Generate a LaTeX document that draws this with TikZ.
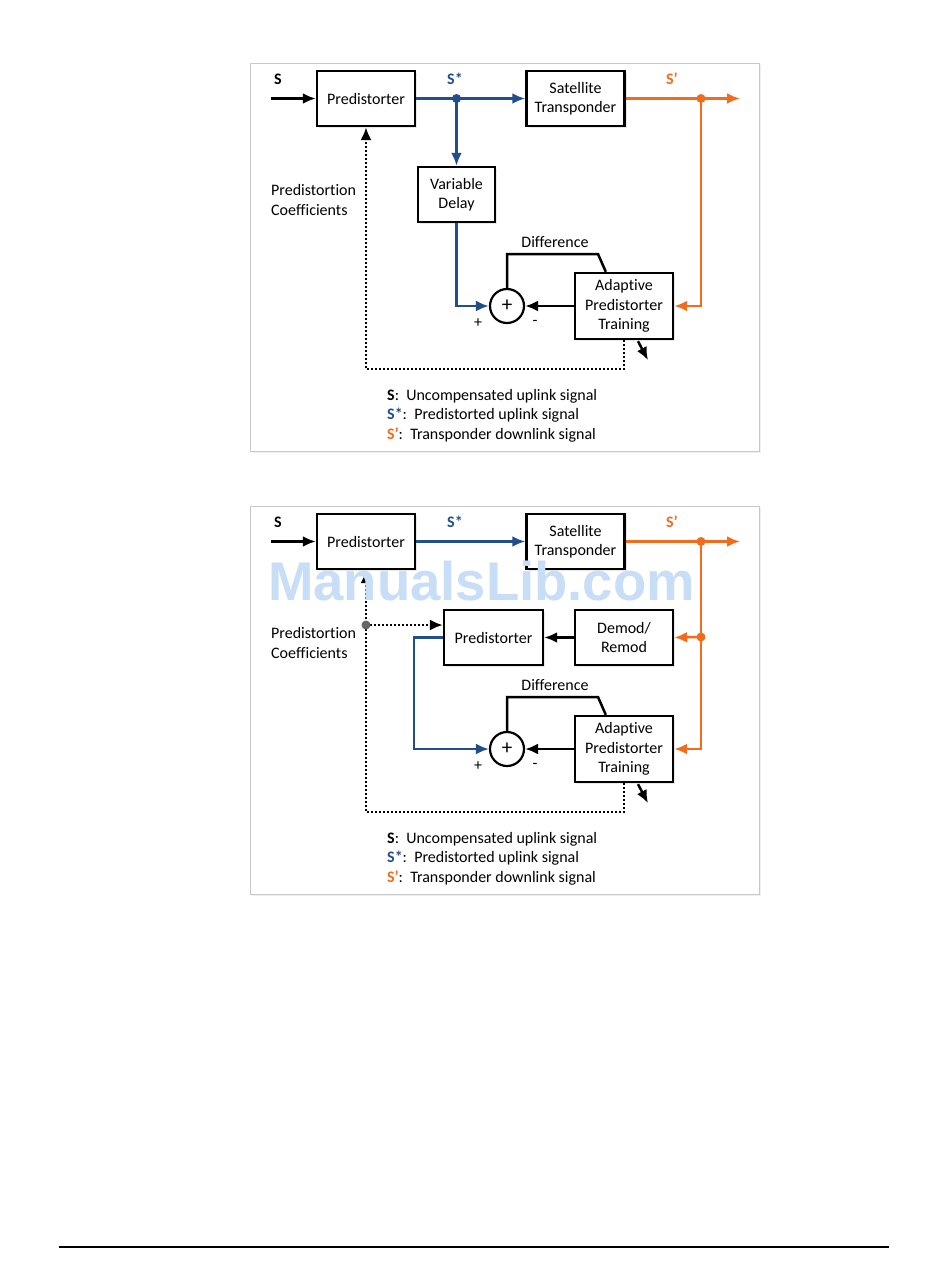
\documentclass[tikz,border=0pt]{standalone}
\usepackage{fontspec}
\setmainfont{Carlito}[Ligatures={NoCommon}]
\newfontfamily\wmfont{Liberation Sans}
\usetikzlibrary{arrows.meta,calc,shadows}
\definecolor{sblue}{RGB}{35,78,140}
\definecolor{sorange}{RGB}{242,108,30}
\definecolor{wmblue}{RGB}{200,221,246}
\definecolor{framegray}{RGB}{200,200,200}
\tikzset{
  txt/.style={font=\fontsize{16}{19.5}\selectfont, align=center, inner sep=0pt},
  blk/.style={txt, draw=black, line width=2.4pt, fill=white, minimum width=98pt, minimum height=55pt,
    drop shadow={shadow xshift=2pt, shadow yshift=-2pt, opacity=0.18}},
  sumnode/.style={circle, draw=black, line width=2.2pt, fill=white, minimum size=34pt, inner sep=0pt,
    font=\fontsize{21}{21}\selectfont},
  conn/.style={line width=2.5pt},
  tip/.style={-{Latex[length=13pt,width=11pt]}},
  bl/.style={conn, draw=sblue},
  orl/.style={conn, draw=sorange},
  dotl/.style={line width=2.2pt, dash pattern=on 2pt off 2pt, line cap=butt},
  frame/.style={draw=framegray, line width=1pt, fill=white,
    drop shadow={shadow xshift=2pt, shadow yshift=-2pt, opacity=0.12}},
}
\begin{document}
\begin{tikzpicture}[x=1pt,y=-1pt]
\useasboundingbox (0,0) rectangle (950,1267);
\fill[white] (0,0) rectangle (950,1267);

% ================= TOP DIAGRAM =================
\begin{scope}
\draw[frame] (250,63) rectangle (759,451);
\node[blk] (tP) at (366,98.5) {Predistorter};
\node[blk] (tS) at (575.5,98.5) {Satellite\\Transponder};
\node[blk, minimum width=77pt] (tVD) at (456.5,194.5) {Variable\\Delay};
\node[blk, minimum height=66pt] (tA) at (624,306) {Adaptive\\Predistorter\\Training};
\node[sumnode] (tsum) at (507,306) {+};
\coordinate (tin) at (271,98.5);
\coordinate (tout) at (740,98.5);
\coordinate (tbd) at (456.5,98.5);
\coordinate (tod) at (701,98.5);
% input
\draw[conn, tip] (tin) -- (tP.west);
% S* path
\draw[bl, tip] (tP.east) -- (tS.west);
\draw[bl, tip] (tbd) -- (tVD.north);
\fill[sblue] (tbd) circle (4.5);
\draw[bl, tip] (tVD.south) |- (tsum.west);
% S' path
\draw[orl, tip] (tS.east) -- (tout);
\draw[orl, tip] (tod) |- (tA.east);
\fill[sorange] (tod) circle (4.5);
% minus input
\draw[conn, tip] (tA.west) -- (tsum.east);
% difference
\draw[conn] (tsum.north) |- (598,254) -- ($(tA.north west)+(32,0)$);
% coefficients
\draw[dotl, tip] (tA.south) -- ++(0,29) -| (tP.south);
\draw[conn, tip] ($(tA.south)+(14,1)$) -- ++(10,19);
% labels
\node[txt, font=\fontsize{16}{19.5}\selectfont\bfseries] (tlS) at (278,79) {S};
\node[txt, font=\fontsize{16}{19.5}\selectfont\bfseries, text=sblue] (tlSs) at (455,79) {S*};
\node[txt, font=\fontsize{16}{19.5}\selectfont\bfseries, text=sorange] (tlSp) at (672,79) {S’};
\node[txt, align=left, anchor=west] (tcoef) at (271,200) {Predistortion\\Coefficients};
\node[txt] (tdiff) at (555,242) {Difference};
\node[txt] (tplus) at (478,323) {+};
\node[txt] (tminus) at (535,323) {-};
\node[txt, align=left, anchor=north west] (tleg) at (387,389)
  {\textbf{S}:\ \ Uncompensated uplink signal\\
   \textcolor{sblue}{\textbf{S*}}:\ \ Predistorted uplink signal\\
   \textcolor{sorange}{\textbf{S’}}:\ \ Transponder downlink signal};
\end{scope}

% ================= BOTTOM DIAGRAM =================
\begin{scope}[shift={(0,443)}]
\draw[frame] (250,63) rectangle (759,451);
\node[blk] (bP) at (366,98.5) {Predistorter};
\node[blk] (bS) at (575.5,98.5) {Satellite\\Transponder};
\node[blk, minimum width=99pt] (bP2) at (493.5,194.5) {Predistorter};
\node[blk] (bD) at (624,194.5) {Demod/\\Remod};
\node[blk, minimum height=66pt] (bA) at (624,306) {Adaptive\\Predistorter\\Training};
\node[sumnode] (bsum) at (507,306) {+};
\coordinate (bin) at (271,98.5);
\coordinate (bout) at (740,98.5);
\coordinate (bod) at (701,98.5);
\coordinate (bod2) at (701,194);
\coordinate (bcd) at (366,182);
% input
\draw[conn, tip] (bin) -- (bP.west);
% S* path
\draw[bl, tip] (bP.east) -- (bS.west);
\draw[bl, tip] (bP2.west) -- ++(-29,0) |- (bsum.west);
% S' path
\draw[orl, tip] (bS.east) -- (bout);
\draw[orl, tip] (bod) |- (bA.east);
\draw[orl, tip] (bod2) -- (bD.east);
\fill[sorange] (bod) circle (4.5);
\fill[sorange] (bod2) circle (4.5);
% demod -> predistorter
\draw[conn, tip] (bD.west) -- (bP2.east);
% minus input
\draw[conn, tip] (bA.west) -- (bsum.east);
% difference
\draw[conn] (bsum.north) |- (598,254) -- ($(bA.north west)+(32,0)$);
% coefficients
\draw[dotl, tip] (bA.south) -- ++(0,29) -| (bP.south);
\draw[dotl, tip] (bcd) -- (bcd -| bP2.west);
\fill[gray!80!black] (bcd) circle (4.5);
\draw[conn, tip] ($(bA.south)+(14,1)$) -- ++(10,19);
% labels
\node[txt, font=\fontsize{16}{19.5}\selectfont\bfseries] (blS) at (278,79) {S};
\node[txt, font=\fontsize{16}{19.5}\selectfont\bfseries, text=sblue] (blSs) at (455,79) {S*};
\node[txt, font=\fontsize{16}{19.5}\selectfont\bfseries, text=sorange] (blSp) at (672,79) {S’};
\node[txt, align=left, anchor=west] (bcoef) at (271,200) {Predistortion\\Coefficients};
\node[txt] (bdiff) at (555,242) {Difference};
\node[txt] (bplus) at (478,323) {+};
\node[txt] (bminus) at (535,323) {-};
\node[txt, align=left, anchor=north west] (bleg) at (387,389)
  {\textbf{S}:\ \ Uncompensated uplink signal\\
   \textcolor{sblue}{\textbf{S*}}:\ \ Predistorted uplink signal\\
   \textcolor{sorange}{\textbf{S’}}:\ \ Transponder downlink signal};
% watermark
\node[anchor=base, inner sep=0pt, text=wmblue, font=\wmfont\bfseries\fontsize{54.5}{60}\selectfont] (wm) at (481.5,157) {ManualsLib.com};
\end{scope}

% page rule
\draw[line width=1.5pt] (59,1247) -- (889,1247);
\end{tikzpicture}
\end{document}
